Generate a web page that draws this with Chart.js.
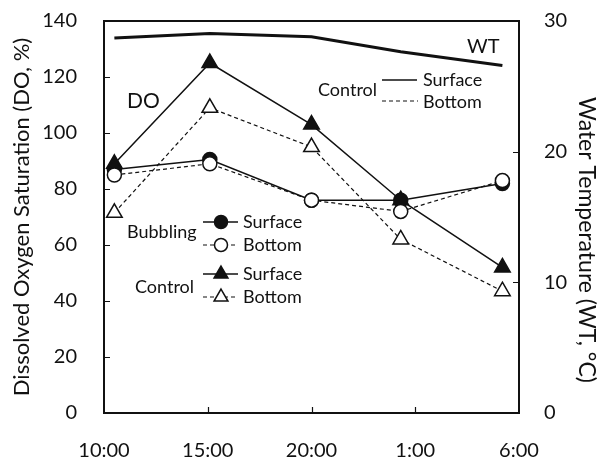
<!DOCTYPE html>
<html>
<head>
<meta charset="utf-8">
<script src="https://cdn.jsdelivr.net/npm/chart.js@4/dist/chart.umd.min.js"></script>
<style>
  html, body { margin: 0; padding: 0; background: #fff; }
  #wrap { width: 606px; height: 462px; }
</style>
</head>
<body>
<div id="wrap"><canvas id="chart" width="606" height="462"></canvas></div>
<script>
// Clock labels for the x axis, one every 5 hours starting at 10:00
const timeLabels = ['10:00', '15:00', '20:00', '1:00', '6:00'];
// Sampling times, in hours elapsed since 10:00
const sampleHours = [0.5, 5.1, 10, 14.3, 19.2];

// Dissolved oxygen saturation (%)
const bubblingSurface = [87, 90.5, 76, 76, 82];
const bubblingBottom  = [85, 89, 76, 72, 83];
const controlSurface  = [89, 125, 103, 76, 52];
const controlBottom   = [71.5, 109, 95, 62, 43.5];

// Water temperature (°C), control surface
const waterTemp = [28.7, 29.05, 28.8, 27.65, 26.6];

const FONT = 'Lato';
const INK = '#111';

const pts = arr => sampleHours.map((h, i) => ({ x: h, y: arr[i] }));

// Frame around the plot and short inward tick marks
const framePlugin = {
  id: 'frame',
  beforeDatasetsDraw(chart) {
    const { ctx, chartArea: a, scales } = chart;
    ctx.save();
    ctx.strokeStyle = INK;
    ctx.lineWidth = 2;
    ctx.strokeRect(a.left, a.top, a.right - a.left, a.bottom - a.top);
    ctx.lineWidth = 1.2;
    const len = 6;
    ctx.beginPath();
    scales.x.ticks.forEach(t => {
      if (t.value <= scales.x.min || t.value >= scales.x.max) return;
      const px = Math.round(scales.x.getPixelForValue(t.value)) + 0.5;
      ctx.moveTo(px, a.bottom); ctx.lineTo(px, a.bottom - len);
    });
    scales.y.ticks.forEach(t => {
      if (t.value <= scales.y.min || t.value >= scales.y.max) return;
      const py = Math.round(scales.y.getPixelForValue(t.value)) + 0.5;
      ctx.moveTo(a.left, py); ctx.lineTo(a.left + len, py);
    });
    scales.y1.ticks.forEach(t => {
      if (t.value <= scales.y1.min || t.value >= scales.y1.max) return;
      const py = Math.round(scales.y1.getPixelForValue(t.value)) + 0.5;
      ctx.moveTo(a.right, py); ctx.lineTo(a.right - len, py);
    });
    ctx.stroke();
    ctx.restore();
  }
};

function marker(ctx, style, filled, x, y, r) {
  ctx.save();
  ctx.setLineDash([]);
  ctx.lineWidth = 1.5;
  ctx.strokeStyle = INK;
  ctx.fillStyle = filled ? INK : '#fff';
  ctx.beginPath();
  if (style === 'circle') {
    ctx.arc(x, y, r, 0, Math.PI * 2);
  } else {
    const s = Math.sin(Math.PI / 3) * r;
    ctx.moveTo(x, y - r);
    ctx.lineTo(x + s, y + r / 2);
    ctx.lineTo(x - s, y + r / 2);
    ctx.closePath();
  }
  ctx.fill();
  ctx.stroke();
  ctx.restore();
}

function sample(ctx, x1, x2, y, dashed, width) {
  ctx.save();
  ctx.strokeStyle = INK;
  ctx.lineWidth = width;
  ctx.setLineDash(dashed ? [4, 3] : []);
  ctx.beginPath();
  ctx.moveTo(x1, y); ctx.lineTo(x2, y);
  ctx.stroke();
  ctx.restore();
}

// Inline keys, the DO / WT captions and the temperature axis title
const keyPlugin = {
  id: 'keys',
  afterDatasetsDraw(chart) {
    const { ctx, chartArea: a } = chart;
    const L = a.left, T = a.top;
    ctx.save();
    ctx.fillStyle = INK;
    ctx.textBaseline = 'middle';
    ctx.textAlign = 'left';

    ctx.font = `21px ${FONT}`;
    ctx.fillText('DO', L + 23, T + 80);
    ctx.font = `20px ${FONT}`;
    ctx.fillText('WT', L + 363, T + 26);

    ctx.font = `18px ${FONT}`;
    // temperature key
    ctx.fillText('Control', L + 214, T + 69);
    sample(ctx, L + 278, L + 313, T + 59, false, 1.5);
    sample(ctx, L + 278, L + 314, T + 80, true, 1.2);
    ctx.fillText('Surface', L + 319, T + 59);
    ctx.fillText('Bottom', L + 319, T + 81);

    // oxygen key
    ctx.fillText('Bubbling', L + 23, T + 211);
    ctx.fillText('Control', L + 31, T + 266);
    const rows = [
      { y: T + 201, dashed: false, style: 'circle', filled: true, text: 'Surface' },
      { y: T + 224, dashed: true, style: 'circle', filled: false, text: 'Bottom' },
      { y: T + 253, dashed: false, style: 'triangle', filled: true, text: 'Surface' },
      { y: T + 276, dashed: true, style: 'triangle', filled: false, text: 'Bottom' }
    ];
    rows.forEach(r => {
      sample(ctx, L + 99, L + 134, r.y, r.dashed, r.dashed ? 1.2 : 1.5);
      marker(ctx, r.style, r.filled, L + 117, r.y, r.style === 'circle' ? 6.5 : 8);
      ctx.fillStyle = INK;
      ctx.fillText(r.text, L + 139, r.y);
    });

    // right-hand axis title, reading top to bottom
    ctx.translate(a.right + 67, T + 219);
    ctx.rotate(Math.PI / 2);
    ctx.textAlign = 'center';
    ctx.font = `23px ${FONT}`;
    ctx.fillText('Water Temperature (WT, °C)', 0, 0);
    ctx.restore();
  }
};

const doSeries = (label, data, dashed, style, filled, order) => ({
  label,
  data: pts(data),
  yAxisID: 'y',
  borderColor: INK,
  borderWidth: dashed ? 1.2 : 1.5,
  borderDash: dashed ? [4, 3] : [],
  pointStyle: style,
  pointRadius: style === 'circle' ? 7 : 9,
  pointBorderWidth: 1.5,
  pointBorderColor: INK,
  pointBackgroundColor: filled ? INK : '#fff',
  tension: 0,
  order
});

// Vertical axes: fixed width, and no extra end padding from the label gap
const fixVertical = width => s => {
  s.width = width;
  s.paddingTop = 0;
  s.paddingBottom = 0;
};

new Chart(document.getElementById('chart'), {
  type: 'line',
  data: {
    datasets: [
      doSeries('Bubbling Bottom', bubblingBottom, true, 'circle', false, 1),
      doSeries('Bubbling Surface', bubblingSurface, false, 'circle', true, 2),
      doSeries('Control Surface', controlSurface, false, 'triangle', true, 3),
      doSeries('Control Bottom', controlBottom, true, 'triangle', false, 4),
      {
        label: 'WT',
        data: pts(waterTemp),
        yAxisID: 'y1',
        borderColor: INK,
        borderWidth: 3,
        pointRadius: 0,
        tension: 0,
        order: 5
      }
    ]
  },
  options: {
    responsive: false,
    animation: false,
    devicePixelRatio: 1,
    layout: { padding: { top: 21, left: 0, right: 0, bottom: 0 } },
    plugins: { legend: { display: false }, tooltip: { enabled: false } },
    scales: {
      x: {
        type: 'linear',
        min: 0, max: 20,
        grid: { display: false, drawTicks: false },
        border: { display: false },
        ticks: {
          stepSize: 5,
          padding: 26,
          color: INK,
          font: { family: FONT, size: 20 },
          maxRotation: 0,
          callback: v => timeLabels[Math.round(v / 5)]
        },
        afterFit: s => { s.height = 49; s.paddingLeft = 0; s.paddingRight = 0; }
      },
      y: {
        position: 'left',
        min: 0, max: 140,
        grid: { display: false, drawTicks: false },
        border: { display: false },
        ticks: { stepSize: 20, padding: 27, color: INK, font: { family: FONT, size: 20 } },
        title: {
          display: true,
          text: 'Dissolved Oxygen Saturation (DO, %)',
          color: INK,
          font: { family: FONT, size: 22 },
          padding: { top: 9, bottom: 0 }
        },
        afterFit: fixVertical(104)
      },
      y1: {
        position: 'right',
        min: 0, max: 30,
        grid: { display: false, drawTicks: false },
        border: { display: false },
        ticks: { stepSize: 10, padding: 25, color: INK, font: { family: FONT, size: 20 } },
        afterFit: fixVertical(87)
      }
    }
  },
  plugins: [framePlugin, keyPlugin]
});
</script>
</body>
</html>
